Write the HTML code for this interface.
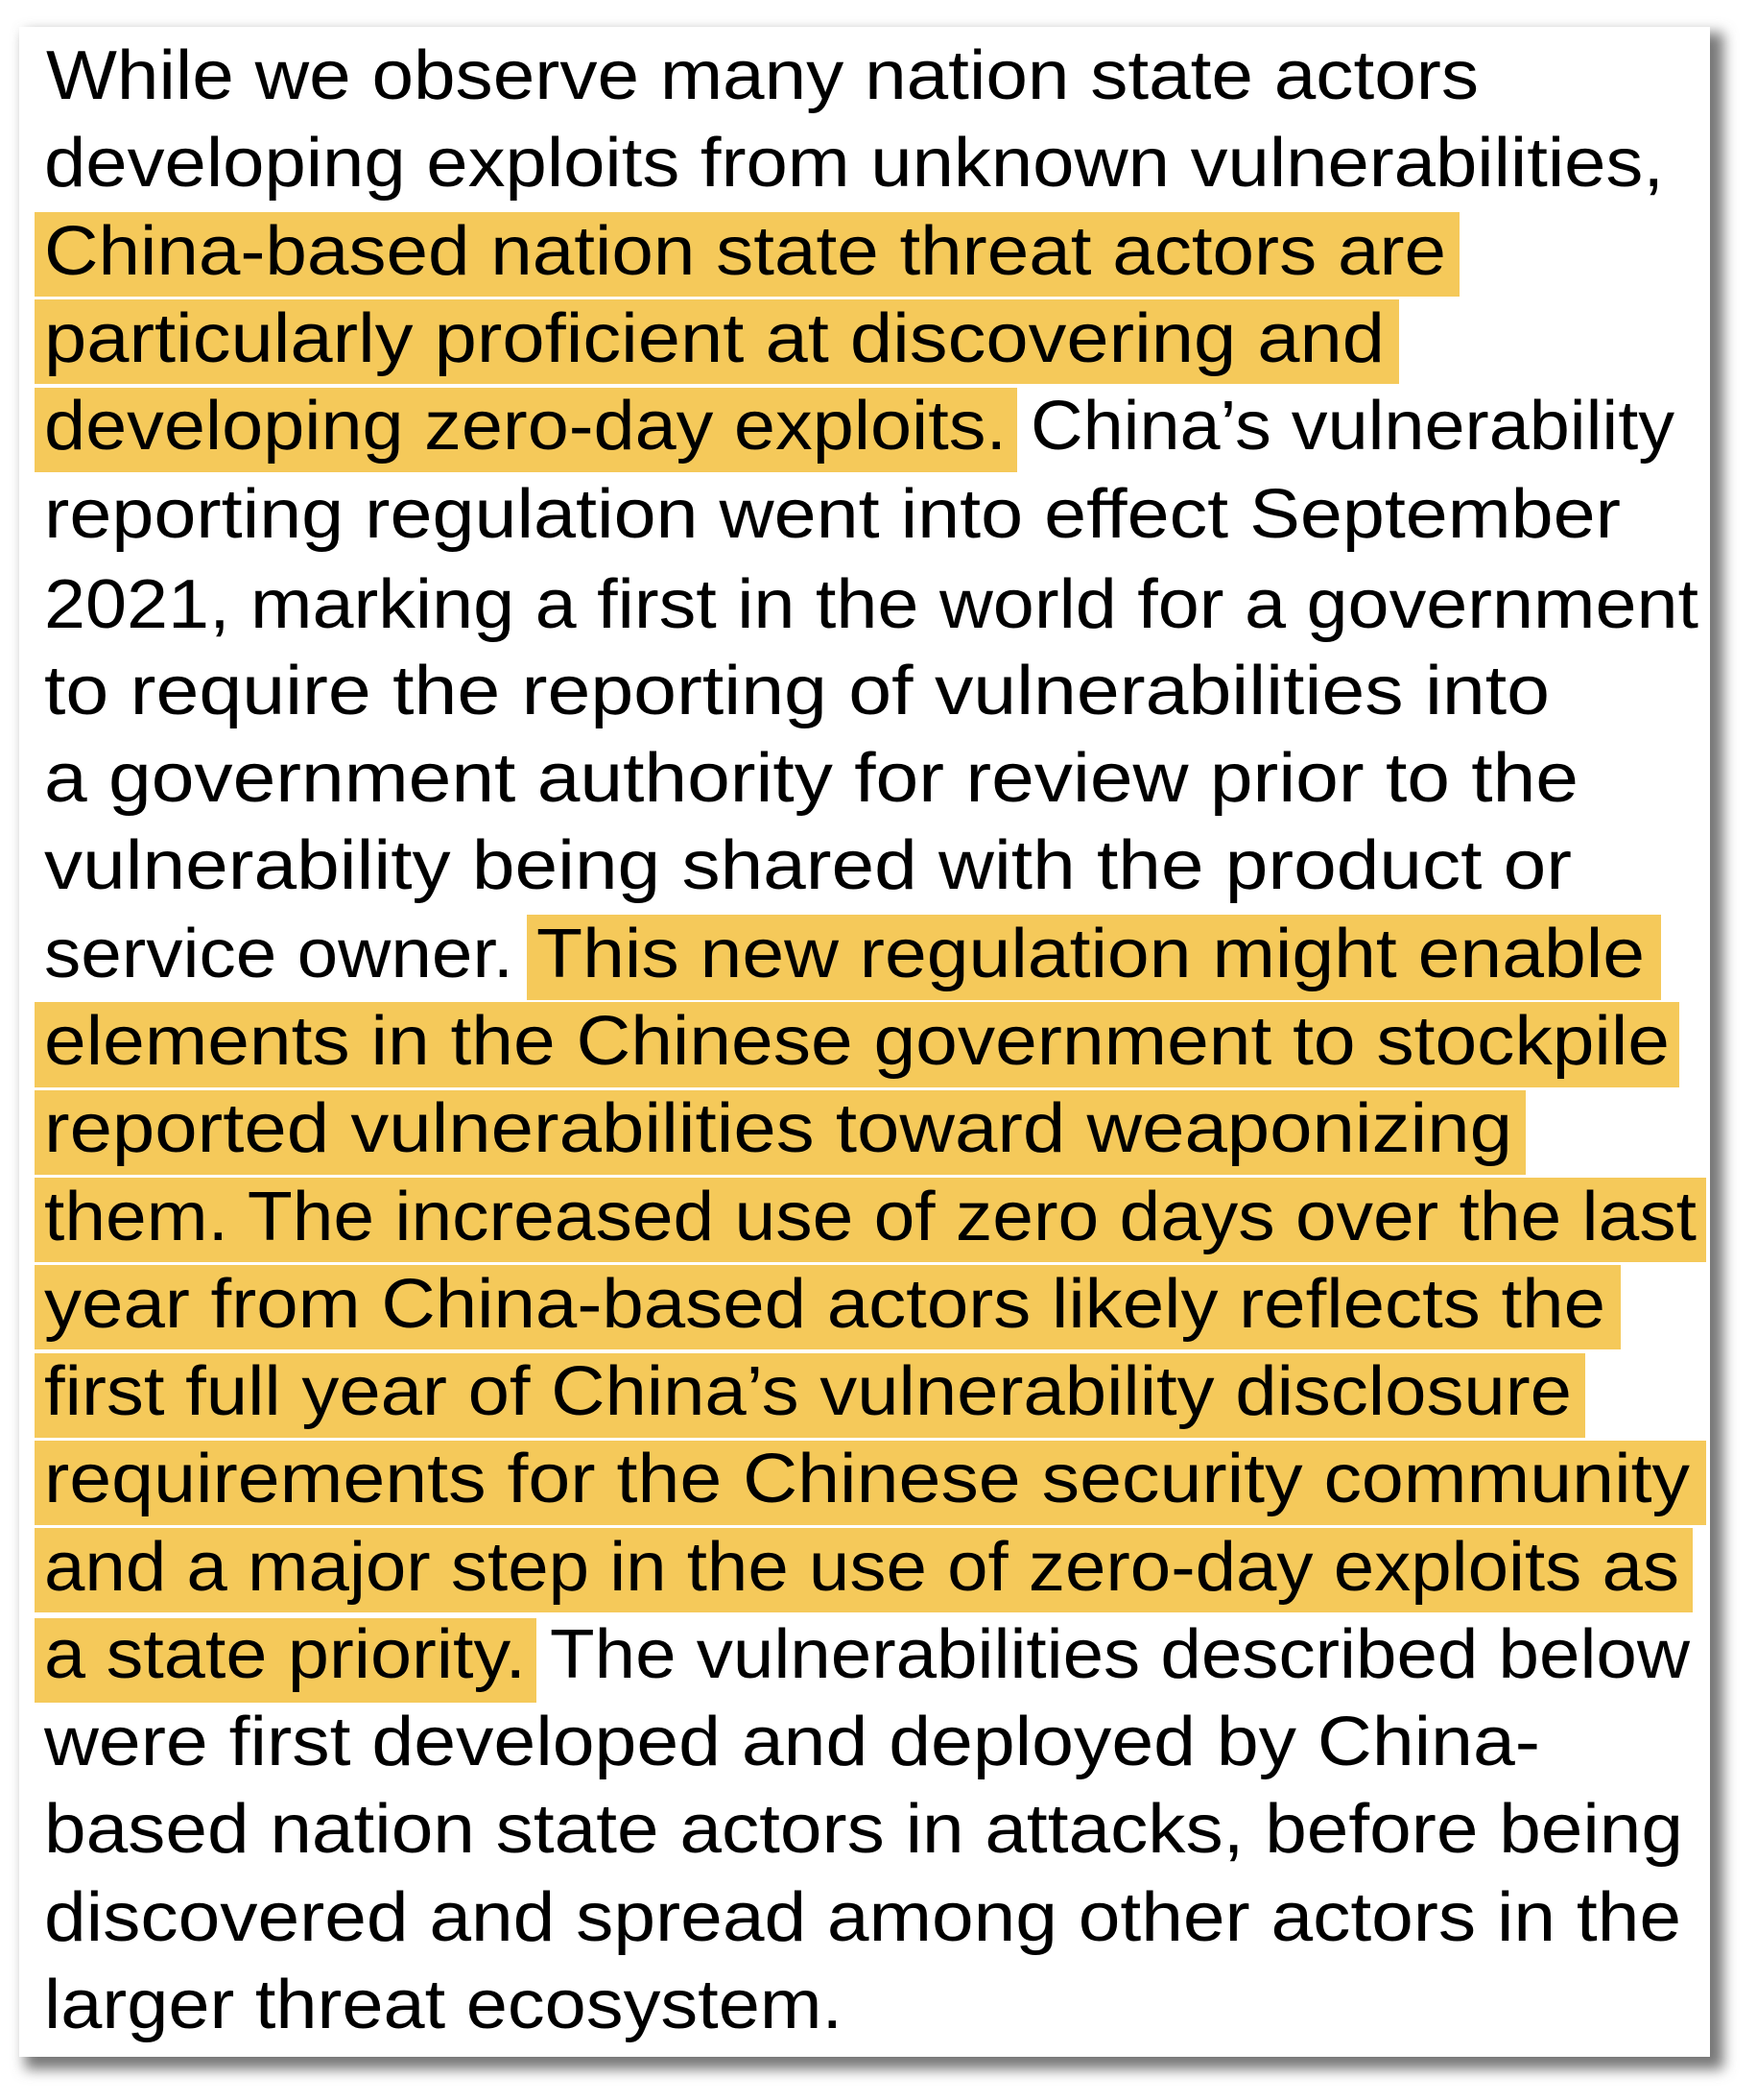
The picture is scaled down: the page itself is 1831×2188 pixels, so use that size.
<!DOCTYPE html>
<html><head><meta charset="utf-8"><style>
html,body{margin:0;padding:0;background:#fff;}
svg{display:block;}
text{font-family:"Liberation Sans",sans-serif;font-size:72px;fill:#000;}
</style></head><body>
<svg width="1831" height="2188" viewBox="0 0 1831 2188" xmlns="http://www.w3.org/2000/svg">
<defs>
<filter id="sh" x="-5%" y="-5%" width="110%" height="110%"><feGaussianBlur stdDeviation="7"/></filter>
</defs>
<rect x="26" y="34" width="1770" height="2122" fill="#777" filter="url(#sh)"/>
<rect x="20" y="28" width="1762" height="2115" fill="#fff"/>
<g fill="#f5c95a">
<rect x="36" y="221" width="1485" height="88"/>
<rect x="36" y="312" width="1422" height="88"/>
<rect x="36" y="404" width="1024" height="88"/>
<rect x="549" y="953" width="1182" height="89"/>
<rect x="36" y="1044" width="1714" height="89"/>
<rect x="36" y="1136" width="1554" height="88"/>
<rect x="36" y="1227" width="1742" height="88"/>
<rect x="36" y="1318" width="1653" height="88"/>
<rect x="36" y="1410" width="1616" height="88"/>
<rect x="36" y="1501" width="1742" height="88"/>
<rect x="36" y="1592" width="1728" height="88"/>
<rect x="36" y="1686" width="523" height="88"/>
</g>
<text x="48" y="103" textLength="1493" lengthAdjust="spacingAndGlyphs">While we observe many nation state actors</text>
<text x="46" y="194" textLength="1688" lengthAdjust="spacingAndGlyphs">developing exploits from unknown vulnerabilities,</text>
<text x="46" y="286" textLength="1461" lengthAdjust="spacingAndGlyphs">China-based nation state threat actors are</text>
<text x="46" y="377" textLength="1397" lengthAdjust="spacingAndGlyphs">particularly proficient at discovering and</text>
<text x="46" y="468" textLength="1003" lengthAdjust="spacingAndGlyphs">developing zero-day exploits.</text>
<text x="1074" y="468" textLength="671" lengthAdjust="spacingAndGlyphs">China’s vulnerability</text>
<text x="46" y="560" textLength="1643" lengthAdjust="spacingAndGlyphs">reporting regulation went into effect September</text>
<text x="46" y="654" textLength="1724" lengthAdjust="spacingAndGlyphs">2021, marking a first in the world for a government</text>
<text x="46" y="744" textLength="1569" lengthAdjust="spacingAndGlyphs">to require the reporting of vulnerabilities into</text>
<text x="46" y="835" textLength="1599" lengthAdjust="spacingAndGlyphs">a government authority for review prior to the</text>
<text x="46" y="926" textLength="1592" lengthAdjust="spacingAndGlyphs">vulnerability being shared with the product or</text>
<text x="46" y="1018" textLength="489" lengthAdjust="spacingAndGlyphs">service owner.</text>
<text x="559" y="1018" textLength="1155" lengthAdjust="spacingAndGlyphs">This new regulation might enable</text>
<text x="46" y="1109" textLength="1694" lengthAdjust="spacingAndGlyphs">elements in the Chinese government to stockpile</text>
<text x="46" y="1200" textLength="1530" lengthAdjust="spacingAndGlyphs">reported vulnerabilities toward weaponizing</text>
<text x="46" y="1292" textLength="1722" lengthAdjust="spacingAndGlyphs">them. The increased use of zero days over the last</text>
<text x="46" y="1383" textLength="1627" lengthAdjust="spacingAndGlyphs">year from China-based actors likely reflects the</text>
<text x="46" y="1474" textLength="1592" lengthAdjust="spacingAndGlyphs">first full year of China’s vulnerability disclosure</text>
<text x="46" y="1565" textLength="1715" lengthAdjust="spacingAndGlyphs">requirements for the Chinese security community</text>
<text x="46" y="1657" textLength="1704" lengthAdjust="spacingAndGlyphs">and a major step in the use of zero-day exploits as</text>
<text x="46" y="1748" textLength="502" lengthAdjust="spacingAndGlyphs">a state priority.</text>
<text x="573" y="1748" textLength="1188" lengthAdjust="spacingAndGlyphs">The vulnerabilities described below</text>
<text x="46" y="1839" textLength="1559" lengthAdjust="spacingAndGlyphs">were first developed and deployed by China-</text>
<text x="46" y="1930" textLength="1708" lengthAdjust="spacingAndGlyphs">based nation state actors in attacks, before being</text>
<text x="46" y="2022" textLength="1706" lengthAdjust="spacingAndGlyphs">discovered and spread among other actors in the</text>
<text x="46" y="2113" textLength="832" lengthAdjust="spacingAndGlyphs">larger threat ecosystem.</text>
</svg>
</body></html>
